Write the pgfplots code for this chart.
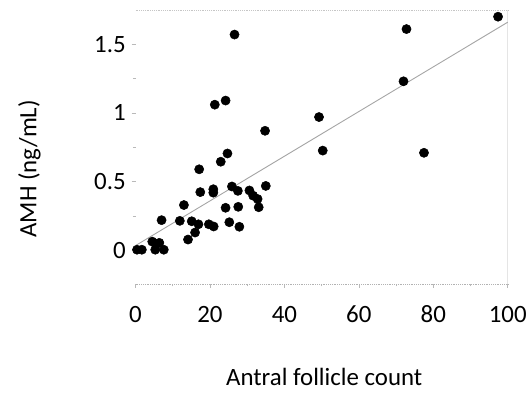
\documentclass[border=0pt]{standalone}
\usepackage{pgfplots}
\pgfplotsset{compat=1.18}
\usepackage{fontspec}
\setmainfont{Carlito}

\begin{document}
\begin{tikzpicture}
% invisible frame to reproduce the margins of the reference
\path (-103.5pt,-90.75pt) rectangle (294.75pt,216.75pt);
\begin{axis}[
    at={(0,0)}, anchor=south west,
    scale only axis, width=284.25pt, height=209.25pt,
    xmin=0, xmax=100, ymin=-0.243, ymax=1.75,
    xtick={0,20,40,60,80,100}, ytick={0,0.5,1,1.5},
    minor x tick num=1, minor y tick num=1,
    xtick pos=bottom, ytick pos=left, tick align=outside,
    major tick length=3pt, minor tick length=2pt,
    tick style={gray!55, thin},
    axis line style={draw=none},
    font=\fontsize{19}{23}\selectfont,
    /pgf/number format/assume math mode=true,
    xticklabel style={text height=12pt, text depth=0pt, anchor=north, yshift=-11pt},
    yticklabel style={anchor=east, xshift=-1pt},
    xlabel={Antral follicle count},
    ylabel={AMH (ng/mL)},
    xlabel style={at={(axis description cs:0.507,-0.34)}, anchor=center},
    ylabel style={at={(axis description cs:-0.285,0.42)}, anchor=center},
    clip=false
]
\draw[gray!60, densely dotted] (rel axis cs:0,0) -- (rel axis cs:1,0);
\draw[gray!45, densely dotted] (rel axis cs:0,1) -- (rel axis cs:1,1);
\draw[gray!20] (rel axis cs:1,0) -- (rel axis cs:1,1);
\addplot[gray!70, line width=0.7pt] coordinates {(0,0.035) (100,1.66)};
\addplot[only marks, mark=*, mark size=3.5pt, black] table {
x y
0.4 0.005
1.7 0.005
4.5 0.064
5.5 0.048
6.4 0.055
5.3 0.005
7.6 0.005
7.0 0.22
11.9 0.215
13.0 0.33
15.1 0.212
16.9 0.19
16.0 0.13
14.1 0.079
19.7 0.19
21.0 0.174
17.4 0.424
20.9 0.445
20.9 0.42
17.1 0.59
22.9 0.645
24.7 0.705
25.9 0.465
27.5 0.433
30.6 0.436
31.6 0.398
32.8 0.374
33.1 0.314
35.0 0.469
27.6 0.317
24.2 0.31
25.2 0.205
27.9 0.172
21.3 1.06
24.2 1.09
26.6 1.57
34.8 0.87
49.3 0.97
50.3 0.726
72.0 1.23
72.8 1.61
97.4 1.70
77.5 0.71
};
\end{axis}
\end{tikzpicture}
\end{document}
